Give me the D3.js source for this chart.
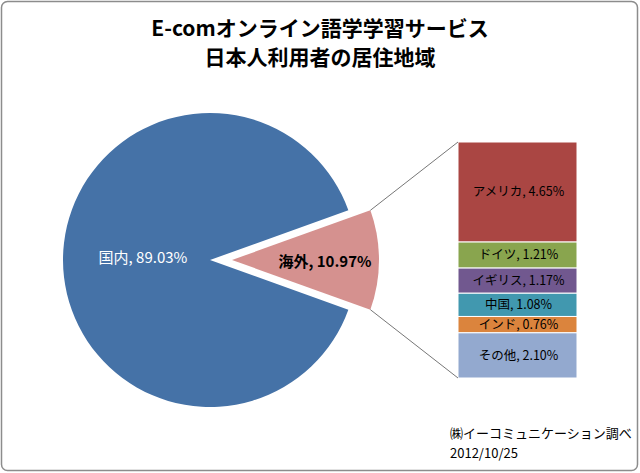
<!DOCTYPE html>
<html><head><meta charset="utf-8">
<script src="https://cdn.jsdelivr.net/npm/d3@7"></script>
<style>
html,body{margin:0;padding:0;background:#fff;}
svg{display:block;font-family:"Noto Sans CJK JP","Noto Sans",sans-serif;}
</style></head><body>
<svg id="chart" width="640" height="473"></svg>
<script>
const titleLines = ["E-comオンライン語学学習サービス", "日本人利用者の居住地域"];
const mainCategories = ["海外", "国内"];
const mainValues = [10.97, 89.03];
const subCategories = ["アメリカ", "ドイツ", "イギリス", "中国", "インド", "その他"];
const subValues = [4.65, 1.21, 1.17, 1.08, 0.76, 2.10];
const footerLines = ["㈱イーコミュニケーション調べ", "2012/10/25"];

const mainColors = ["#D5918F", "#4572A7"];
const subColors = ["#AA4643", "#89A54E", "#71588F", "#4198AF", "#DB843D", "#93A9CF"];

const svg = d3.select("#chart");
svg.append("rect").attr("x",1.5).attr("y",1.5).attr("width",636).attr("height",469)
  .attr("rx",6).attr("fill","#fff").attr("stroke","#8c8c8c").attr("stroke-width",1.5);

svg.selectAll("text.title").data(titleLines).join("text")
  .attr("x",320).attr("y",(d,i)=>36+i*29).attr("text-anchor","middle")
  .attr("font-size",21).attr("font-weight","bold").attr("fill","#000").text(d=>d);

// main pie
const cx = 210, cy = 260, R = 147, explode = 22;
const otherFrac = mainValues[0] / d3.sum(mainValues);
const half = otherFrac * Math.PI;
const pie = d3.pie().sort(null).value(d=>d).startAngle(Math.PI/2 - half).endAngle(Math.PI/2 - half + 2*Math.PI);
const arcs = pie(mainValues);
const arc = d3.arc().innerRadius(0).outerRadius(R);
const offsets = [explode, 0];
const g = svg.append("g");
g.selectAll("path").data(arcs).join("path")
  .attr("transform",(d,i)=>`translate(${cx+offsets[i]},${cy})`)
  .attr("d",arc).attr("fill",(d,i)=>mainColors[i]);

// bar of pie
const barX = 458, barW = 119, barTop = 142, barBottom = 378;
const y = d3.scaleLinear().domain([0, d3.sum(subValues)]).range([barTop, barBottom]);
let cum = 0;
const stacks = subValues.map((v,i)=>{const s={cat:subCategories[i],v,y0:cum,y1:cum+v};cum+=v;return s;});
svg.selectAll("rect.seg").data(stacks).join("rect").attr("class","seg")
  .attr("x",barX).attr("width",barW)
  .attr("y",d=>y(d.y0)).attr("height",d=>y(d.y1)-y(d.y0))
  .attr("fill",(d,i)=>subColors[i]).attr("stroke","#fff").attr("stroke-width",1);

// connector lines
const ax = cx + explode;
const a0 = arcs[0].startAngle, a1 = arcs[0].endAngle;
const p0 = [ax + R*Math.sin(a0), cy - R*Math.cos(a0)];
const p1 = [ax + R*Math.sin(a1), cy - R*Math.cos(a1)];
svg.append("line").attr("x1",p0[0]).attr("y1",p0[1]).attr("x2",barX).attr("y2",y.range()[0])
  .attr("stroke","#777").attr("stroke-width",1);
svg.append("line").attr("x1",p1[0]).attr("y1",p1[1]).attr("x2",barX).attr("y2",y.range()[1])
  .attr("stroke","#777").attr("stroke-width",1);

// labels
svg.append("text").attr("x",143).attr("y",258).attr("dy","0.35em").attr("text-anchor","middle")
  .attr("font-size",15).attr("fill","#fff").text(`${mainCategories[1]}, ${mainValues[1].toFixed(2)}%`);
svg.append("text").attr("x",325).attr("y",262).attr("dy","0.35em").attr("text-anchor","middle")
  .attr("font-size",15).attr("font-weight","bold").attr("fill","#000").text(`${mainCategories[0]}, ${mainValues[0].toFixed(2)}%`);

svg.selectAll("text.seg").data(stacks).join("text").attr("class","seg")
  .attr("x",barX+barW/2+1).attr("y",d=>(y(d.y0)+y(d.y1))/2).attr("dy","0.35em")
  .attr("text-anchor","middle").attr("font-size",12.5).attr("fill","#000")
  .text(d=>`${d.cat}, ${d.v.toFixed(2)}%`);

svg.selectAll("text.foot").data(footerLines).join("text").attr("class","foot")
  .attr("x",450).attr("y",(d,i)=>438+i*20).attr("font-size",13).attr("fill","#000").text(d=>d);
</script>
</body></html>
